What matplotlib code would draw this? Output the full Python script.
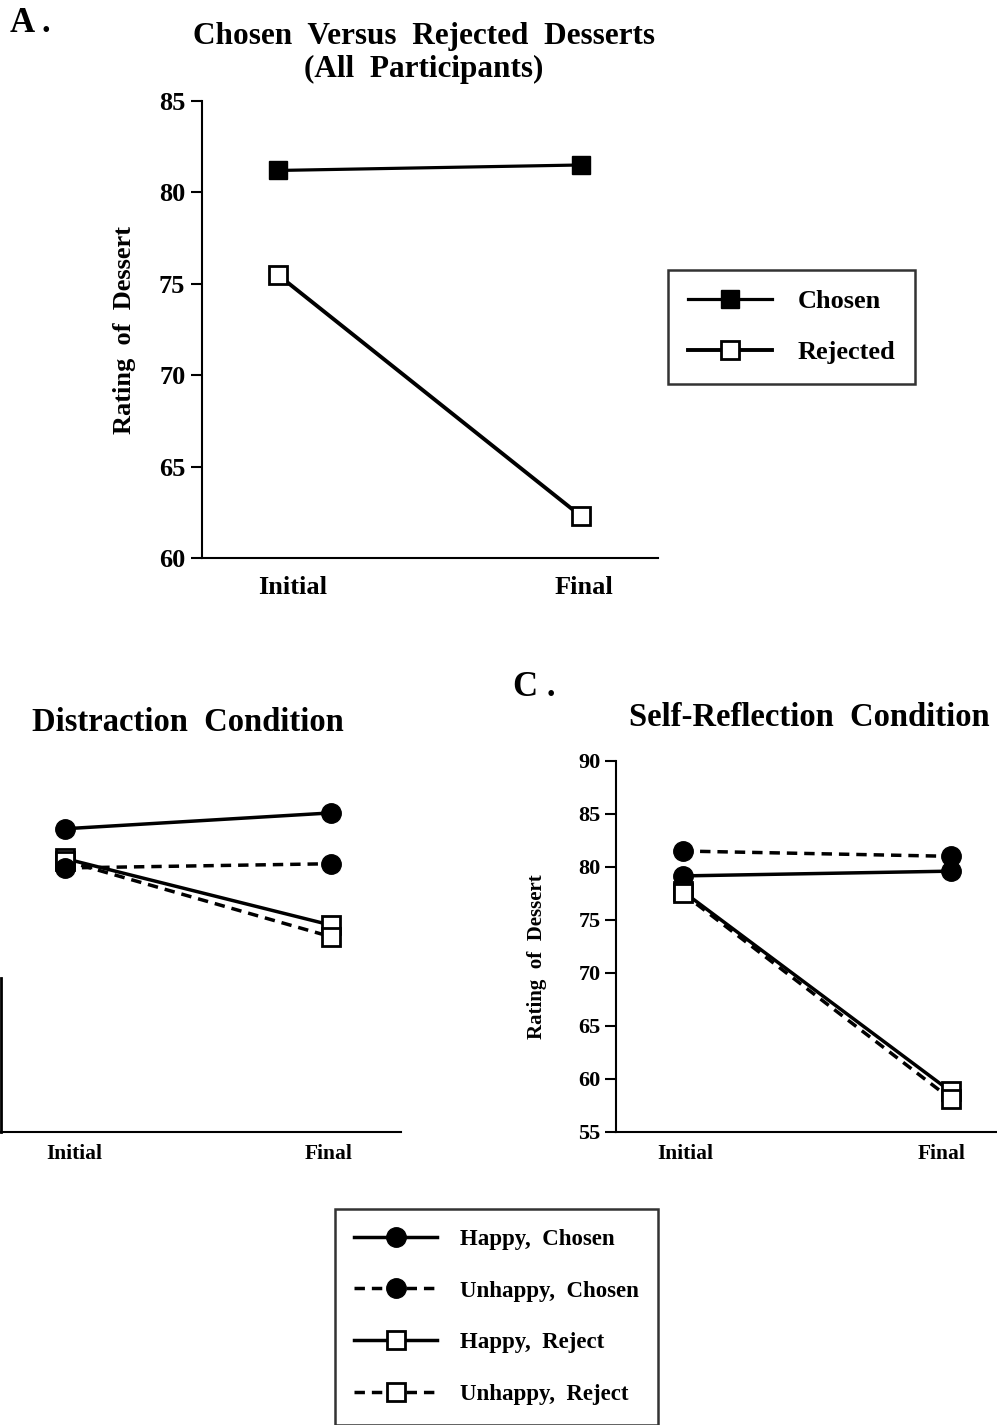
import matplotlib
matplotlib.use('Agg')
import matplotlib.pyplot as plt

plt.rcParams['font.family'] = ['Liberation Serif', 'DejaVu Serif']
plt.rcParams['font.weight'] = 'bold'
plt.rcParams['axes.labelweight'] = 'bold'

phases = ['Initial', 'Final']
x = [0, 1]

# panel A - all participants
a_chosen = [81.2, 81.5]
a_rejected = [75.5, 62.3]

# panel B - distraction condition
b_happy_chosen = [83.6, 85.1]
b_unhappy_chosen = [79.9, 80.3]
b_happy_reject = [80.8, 74.5]
b_unhappy_reject = [80.6, 73.4]

# panel C - self-reflection condition
c_happy_chosen = [79.15, 79.6]
c_unhappy_chosen = [81.5, 81.0]
c_happy_reject = [77.7, 58.8]
c_unhappy_reject = [77.5, 58.1]

W, H = 997, 1425
fig = plt.figure(figsize=(W / 100, H / 100), dpi=100)

def px_axes(left, top, width, height):
    return fig.add_axes([left / W, 1 - (top + height) / H, width / W, height / H])

dash = (0, (3, 2))
lw = 2.5

# ---------------- A ----------------
axA = px_axes(202, 101, 456, 457)
axA.plot(x, a_chosen, color='k', lw=2.3, marker='s', ms=13, mfc='k', mec='k', label='Chosen')
axA.plot(x, a_rejected, color='k', lw=2.8, marker='s', ms=13, mfc='white', mec='k', mew=2, label='Rejected')
axA.set_xlim(-0.25, 1.255)
axA.set_ylim(60, 85)
axA.set_yticks([60, 65, 70, 75, 80, 85])
axA.set_xticks([0.05, 1.01])
axA.set_xticklabels(phases)
axA.tick_params(axis='x', length=0, pad=13, labelsize=19)
axA.tick_params(axis='y', length=8, width=1.5, pad=4, labelsize=19)
axA.spines['top'].set_visible(False)
axA.spines['right'].set_visible(False)
axA.spines['left'].set_linewidth(1.5)
axA.spines['bottom'].set_linewidth(1.5)
axA.set_ylabel('Rating  of  Dessert', fontsize=19)
axA.yaxis.set_label_coords(-0.145, 0.5)

legA = fig.legend(loc='upper left', bbox_to_anchor=(668 / W, 1 - 270 / H), bbox_transform=fig.transFigure,
                  fontsize=19, frameon=True, fancybox=False, edgecolor='k', handlelength=3.2,
                  handletextpad=0.95, labelspacing=1.05, borderpad=0.75, borderaxespad=0,
                  handles=axA.get_lines())
legA.get_frame().set_linewidth(1.8)

fig.text(10 / W, 1 - 24 / H, 'A .', fontsize=25, ha='left', va='center')
fig.text(424 / W, 1 - 53 / H, 'Chosen  Versus  Rejected  Desserts\n(All  Participants)',
         fontsize=22.5, ha='center', va='center', multialignment='center', linespacing=1.15)

# ---------------- B ----------------
axB = px_axes(0.5, 761, 400, 370.7)
axB.plot(x, b_happy_reject, color='k', lw=lw, marker='s', ms=13, mfc='white', mec='k', mew=2)
axB.plot(x, b_unhappy_reject, color='k', lw=lw, ls=dash, marker='s', ms=13, mfc='white', mec='k', mew=2)
axB.plot(x, b_happy_chosen, color='k', lw=lw, marker='o', ms=14, mfc='k', mec='k')
axB.plot(x, b_unhappy_chosen, color='k', lw=lw, ls=dash, marker='o', ms=14, mfc='k', mec='k')
axB.set_xlim(-0.24, 1.26)
axB.set_ylim(55, 90)
axB.set_yticks([])
axB.set_xticks([0.035, 0.99])
axB.set_xticklabels(phases)
axB.tick_params(axis='x', length=0, pad=9, labelsize=15.5)
axB.spines['top'].set_visible(False)
axB.spines['right'].set_visible(False)
axB.spines['left'].set_bounds(55, 69.5)
axB.spines['left'].set_linewidth(2)
axB.spines['bottom'].set_linewidth(1.5)

fig.text(188 / W, 1 - 722 / H, 'Distraction  Condition', fontsize=23.5, ha='center', va='center')

# ---------------- C ----------------
axC = px_axes(615.7, 761, 402, 370.7)
lc1, = axC.plot(x, c_happy_chosen, color='k', lw=lw, marker='o', ms=14, mfc='k', mec='k', label='Happy,  Chosen')
lc2, = axC.plot(x, c_unhappy_chosen, color='k', lw=lw, ls=dash, marker='o', ms=14, mfc='k', mec='k', label='Unhappy,  Chosen')
lc3, = axC.plot(x, c_happy_reject, color='k', lw=lw, marker='s', ms=13, mfc='white', mec='k', mew=2, label='Happy,  Reject')
lc4, = axC.plot(x, c_unhappy_reject, color='k', lw=lw, ls=dash, marker='s', ms=13, mfc='white', mec='k', mew=2, label='Unhappy,  Reject')
axC.set_xlim(-0.25, 1.25)
axC.set_ylim(55, 90)
axC.set_yticks([55, 60, 65, 70, 75, 80, 85, 90])
axC.set_xticks([0.01, 0.965])
axC.set_xticklabels(phases)
axC.tick_params(axis='x', length=0, pad=9, labelsize=15.5)
axC.tick_params(axis='y', length=8, width=1.5, pad=3, labelsize=16)
axC.spines['top'].set_visible(False)
axC.spines['right'].set_visible(False)
axC.spines['left'].set_linewidth(1.5)
axC.spines['bottom'].set_linewidth(1.5)
axC.set_ylabel('Rating  of  Dessert', fontsize=15)
axC.yaxis.set_label_coords(-0.17, 0.471)

fig.text(513 / W, 1 - 687 / H, 'C .', fontsize=25, ha='left', va='center')
fig.text(809 / W, 1 - 718 / H, 'Self-Reflection  Condition', fontsize=23.5, ha='center', va='center')

legC = fig.legend(handles=[lc1, lc2, lc3, lc4], loc='upper left', bbox_to_anchor=(335 / W, 1 - 1209 / H),
                  bbox_transform=fig.transFigure, fontsize=16.5, frameon=True, fancybox=False, edgecolor='k',
                  handlelength=3.6, handletextpad=1.0, labelspacing=1.35, borderpad=0.85, borderaxespad=0)
legC.get_frame().set_linewidth(1.8)

fig.savefig('out.png', dpi=100)
